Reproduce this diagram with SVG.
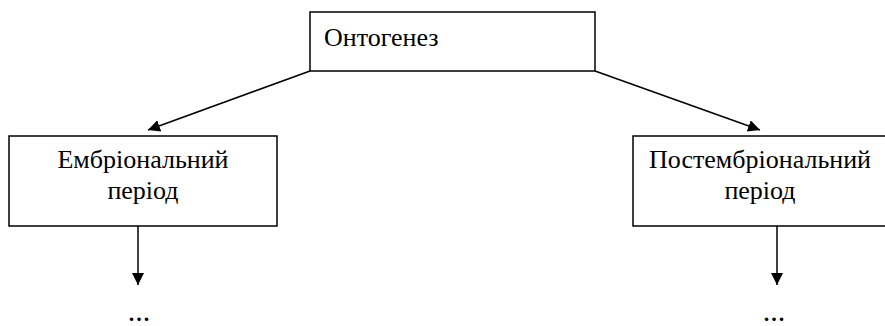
<svg xmlns="http://www.w3.org/2000/svg" width="885" height="326" viewBox="0 0 885 326">
<style>
.box{fill:#fff;stroke:#000;stroke-width:1.5}
.t{font-family:"Liberation Serif","Times New Roman",serif;font-size:26px;fill:#000}
.c{text-anchor:middle}
.ln{stroke:#000;stroke-width:1.5;fill:none}
.d{font-family:"Liberation Serif","Times New Roman",serif;font-size:22px;font-weight:bold;fill:#000;text-anchor:middle;letter-spacing:2px}
</style>
<defs>
<marker id="ah" viewBox="0 0 12 12" refX="12" refY="6" markerWidth="12" markerHeight="12" markerUnits="userSpaceOnUse" orient="auto">
<path d="M0,0 L12,6 L0,12 z" fill="#000"/>
</marker>
</defs>
<g id="connectors">
<line class="ln" x1="310" y1="71" x2="148" y2="130" marker-end="url(#ah)"/>
<line class="ln" x1="595" y1="71" x2="760" y2="130" marker-end="url(#ah)"/>
<line class="ln" x1="138" y1="226" x2="138" y2="285" marker-end="url(#ah)"/>
<line class="ln" x1="777" y1="226" x2="777" y2="285" marker-end="url(#ah)"/>
</g>
<g id="ontogenez">
<rect class="box" x="310" y="12" width="285" height="59"/>
<text class="t" x="324" y="46">Онтогенез</text>
</g>
<g id="embryonic">
<rect class="box" x="9" y="136" width="268" height="90"/>
<text class="t c" x="143" y="168">Ембріональний</text>
<text class="t c" x="143" y="199">період</text>
</g>
<g id="postembryonic">
<rect class="box" x="633" y="136" width="254" height="90"/>
<text class="t c" x="760" y="168">Постембріональний</text>
<text class="t c" x="760" y="199">період</text>
</g>
<g id="dots-left">
<text class="d" x="140" y="321">...</text>
</g>
<g id="dots-right">
<text class="d" x="775" y="321">...</text>
</g>
</svg>
